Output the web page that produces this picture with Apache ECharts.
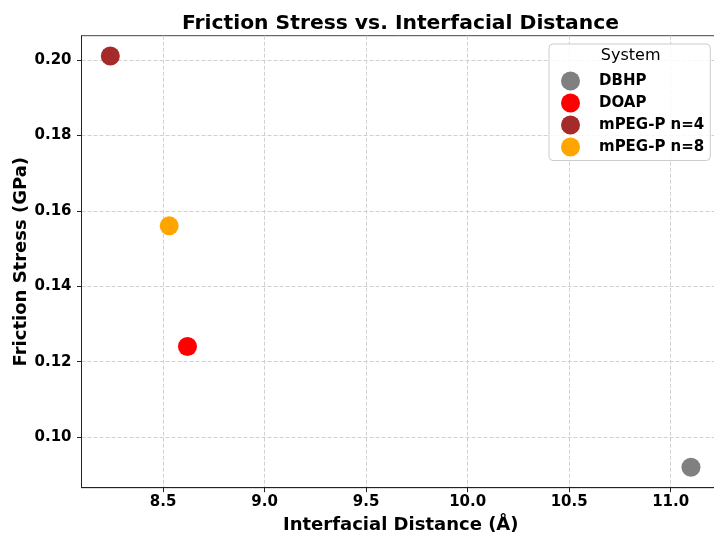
<!DOCTYPE html>
<html>
<head>
<meta charset="utf-8">
<script src="https://cdn.jsdelivr.net/npm/echarts@6/dist/echarts.min.js"></script>
<style>
html,body{margin:0;padding:0;background:#fff;}
#chart{width:714px;height:534px;}
</style>
</head>
<body>
<div id="chart"></div>
<script>
// ---- data ----
const systems = ['DBHP', 'DOAP', 'mPEG-P n=4', 'mPEG-P n=8'];
const distances = [11.10, 8.62, 8.24, 8.53];      // Interfacial Distance (Å)
const stresses = [0.092, 0.124, 0.201, 0.156];     // Friction Stress (GPa)
const xTicks = [8.5, 9.0, 9.5, 10.0, 10.5, 11.0];
const yTicks = [0.10, 0.12, 0.14, 0.16, 0.18, 0.20];
const colors = ['#808080', '#ff0000', '#a52a2a', '#ffa500'];

const FONT = 'DejaVu Sans';
const chart = echarts.init(document.getElementById('chart'), null, {renderer: 'canvas'});

const series = systems.map((name, i) => ({
  name: name,
  type: 'scatter',
  symbol: 'circle',
  symbolSize: 19,
  itemStyle: {color: colors[i], opacity: 1},
  data: [[distances[i], stresses[i]]],
  z: 5
}));

chart.setOption({
  animation: false,
  backgroundColor: '#ffffff',
  title: {
    text: 'Friction Stress vs. Interfacial Distance',
    left: 395.5, top: 9, textAlign: 'center',
    textStyle: {fontFamily: FONT, fontWeight: 'bold', fontSize: 20.3, color: '#000'}
  },
  grid: {
    left: 81.5, top: 35.7, width: 638.5, height: 452,
    outerBoundsMode: 'none',
    show: true, borderColor: '#444', borderWidth: 1, backgroundColor: 'transparent',
    containLabel: false
  },
  legend: {
    data: systems,
    orient: 'vertical',
    left: 549, top: 44,
    padding: [27.5, 6, 4, 12],
    itemWidth: 19, itemHeight: 19, itemGap: 3,
    icon: 'circle',
    selectedMode: false,
    borderColor: '#cccccc', borderWidth: 1, borderRadius: 4,
    backgroundColor: 'rgba(255,255,255,0.85)',
    textStyle: {fontFamily: FONT, fontWeight: 'bold', fontSize: 15, color: '#000', padding: [0, 0, 0, 14]}
  },
  graphic: [{
    type: 'text', x: 630.7, y: 56, z: 100,
    style: {text: 'System', font: '16px "DejaVu Sans"', fill: '#000', align: 'center', verticalAlign: 'middle'}
  }],
  xAxis: {
    type: 'value',
    min: 8.098, max: 11.243,
    name: 'Interfacial Distance (Å)',
    nameLocation: 'middle', nameGap: 29, nameMoveOverlap: false,
    nameTextStyle: {fontFamily: FONT, fontWeight: 'bold', fontSize: 18, color: '#000'},
    axisLine: {show: true, onZero: false, lineStyle: {color: '#222', width: 1}},
    axisTick: {show: true, length: 4.5, customValues: xTicks, lineStyle: {color: '#222', width: 1}},
    axisLabel: {customValues: xTicks, margin: 7, formatter: v => v.toFixed(1),
      fontFamily: FONT, fontWeight: 'bold', fontSize: 15, color: '#000'},
    splitLine: {show: true, lineStyle: {color: '#d0d0d0', type: [4, 2], width: 1}}
  },
  yAxis: {
    type: 'value',
    min: 0.0866, max: 0.2064,
    name: 'Friction Stress (GPa)',
    nameLocation: 'middle', nameGap: 51, nameMoveOverlap: false,
    nameTextStyle: {fontFamily: FONT, fontWeight: 'bold', fontSize: 18, color: '#000'},
    axisLine: {show: true, onZero: false, lineStyle: {color: '#222', width: 1}},
    axisTick: {show: true, length: 4.5, customValues: yTicks, lineStyle: {color: '#222', width: 1}},
    axisLabel: {customValues: yTicks, margin: 10, formatter: v => v.toFixed(2),
      fontFamily: FONT, fontWeight: 'bold', fontSize: 15, color: '#000'},
    splitLine: {show: true, lineStyle: {color: '#d0d0d0', type: [4, 2], width: 1}}
  },
  series: series
});
</script>
</body>
</html>
